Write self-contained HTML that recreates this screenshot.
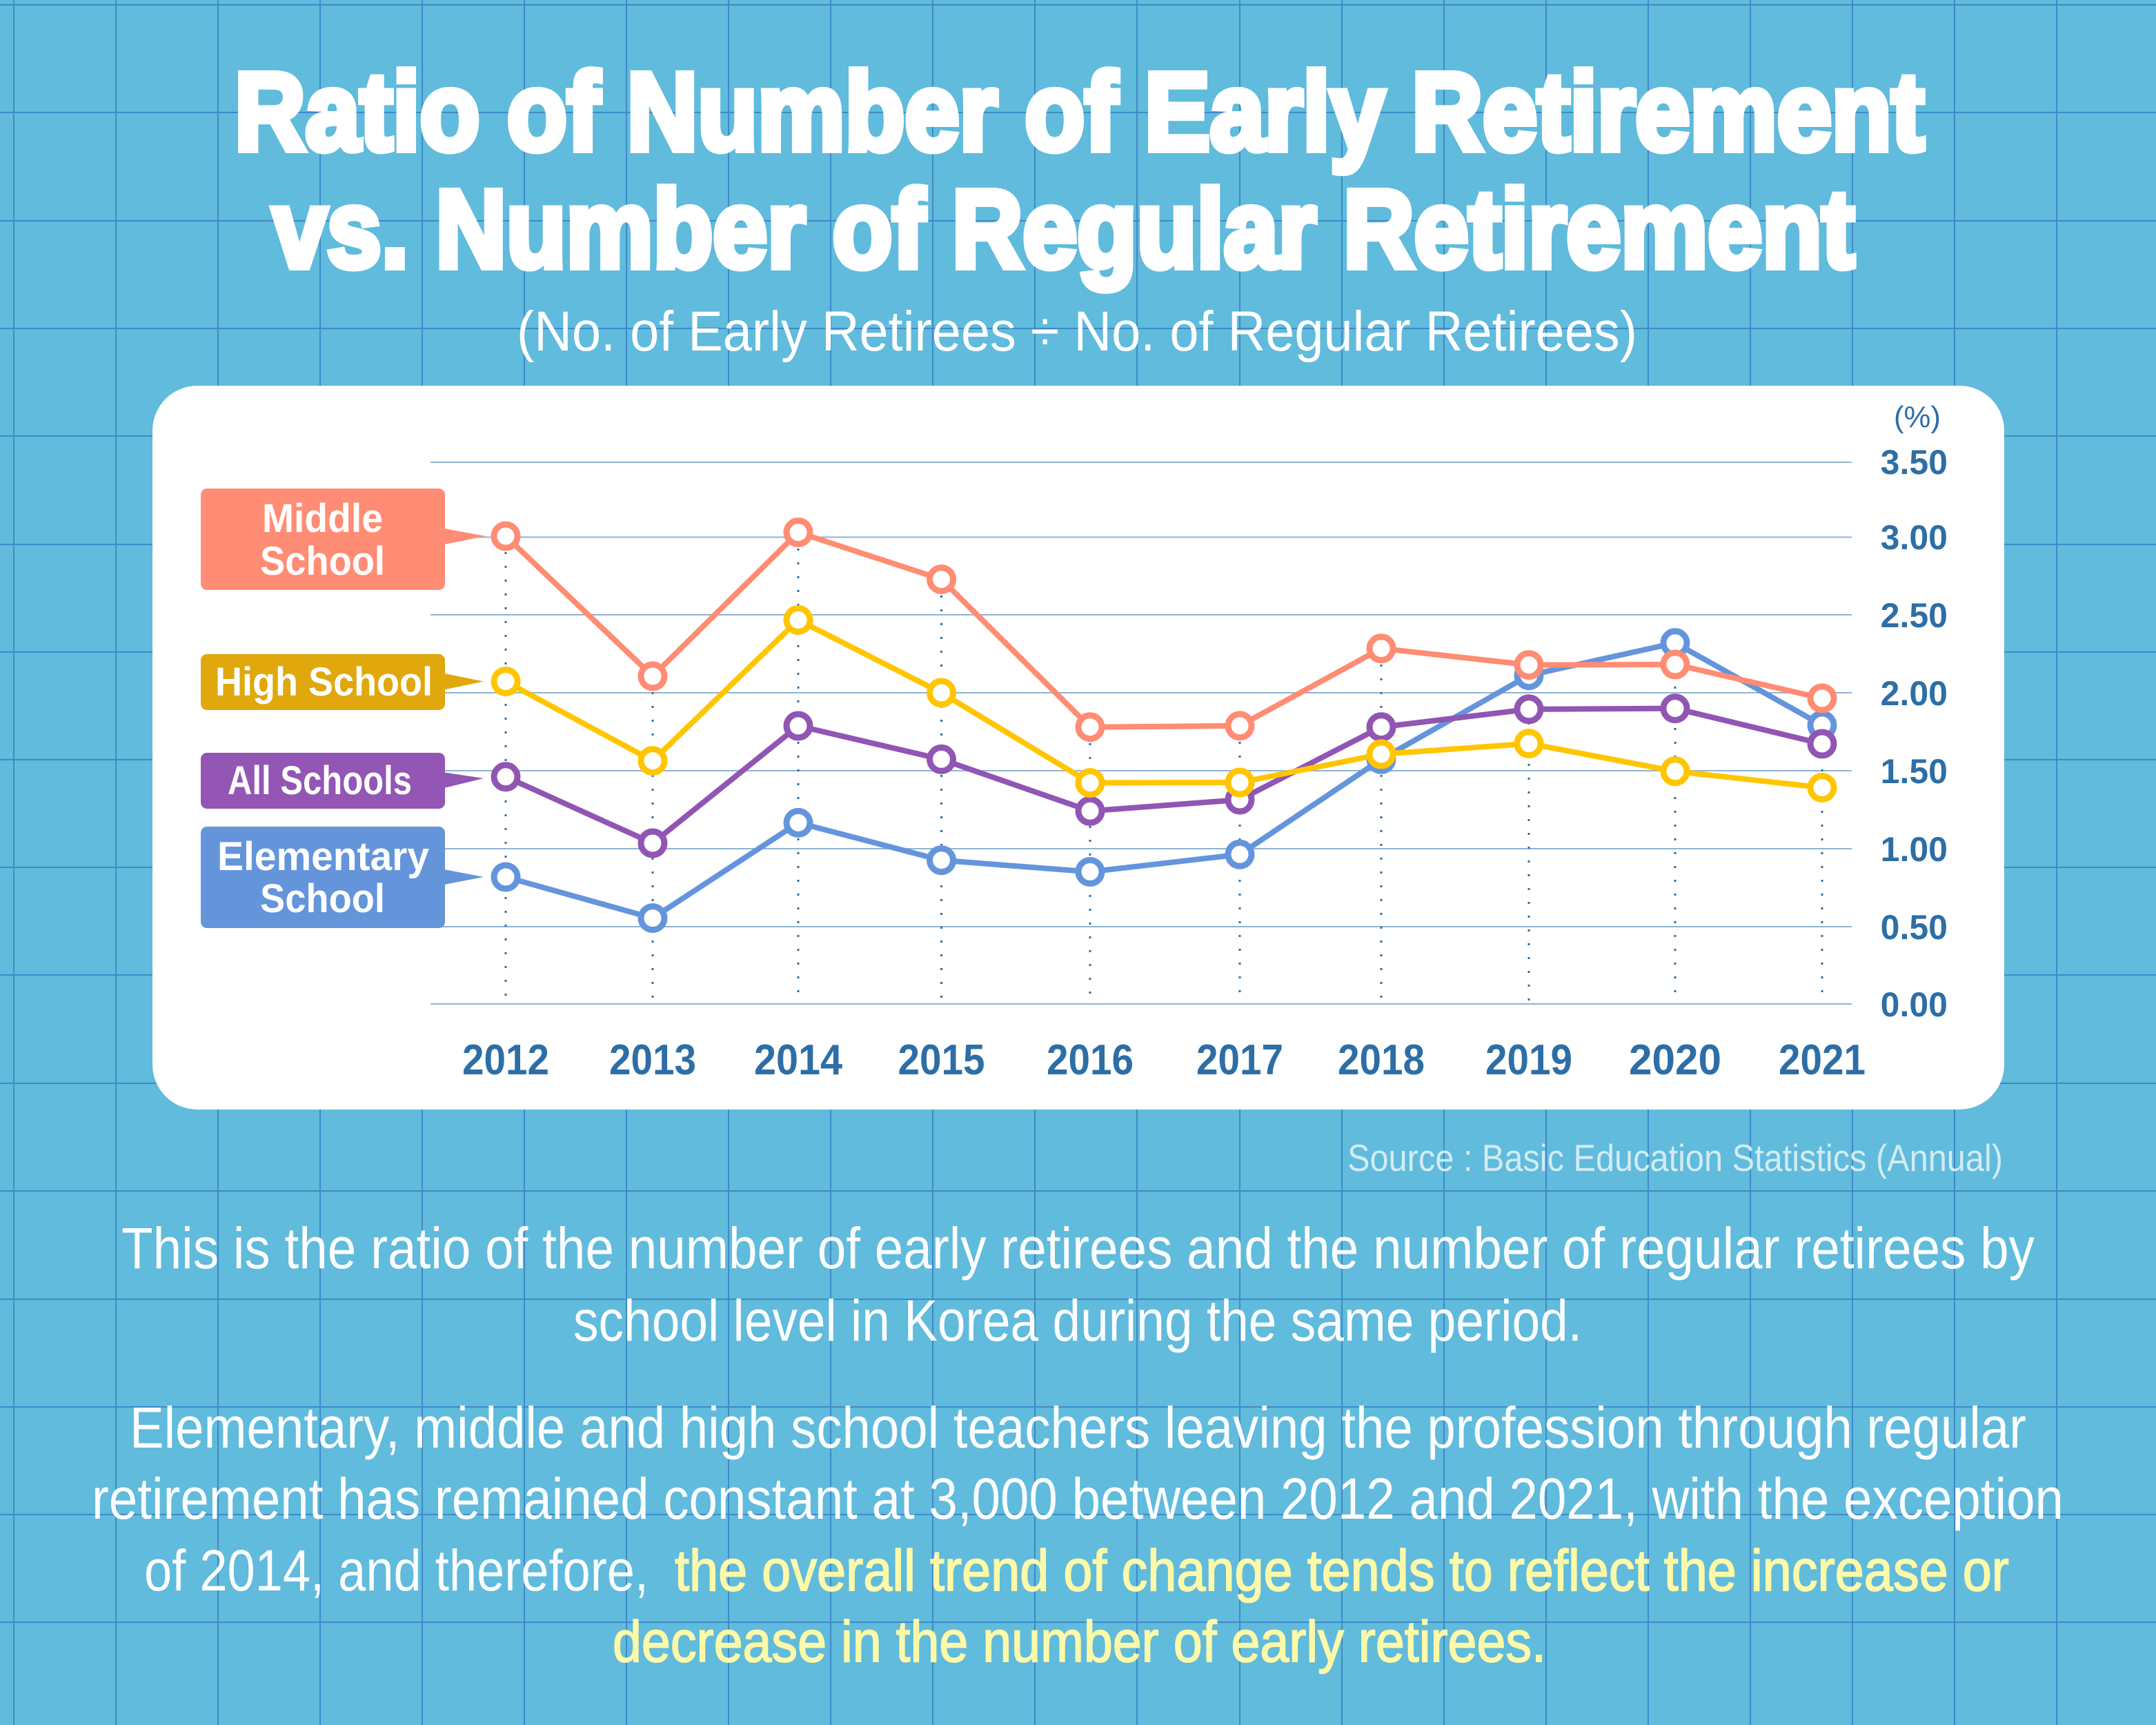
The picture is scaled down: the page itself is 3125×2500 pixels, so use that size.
<!DOCTYPE html>
<html><head><meta charset="utf-8"><style>
html,body{margin:0;padding:0;background:#60bbdc;}
svg{display:block;}
text{font-family:"Liberation Sans",sans-serif;}
</style></head><body>
<svg width="3125" height="2500" viewBox="0 0 3125 2500" xmlns="http://www.w3.org/2000/svg">
<rect x="0" y="0" width="3125" height="2500" fill="#60bbdc"/>
<g stroke="#3f89c8" stroke-width="2">
<line x1="20" y1="0" x2="20" y2="2500"/><line x1="168" y1="0" x2="168" y2="2500"/><line x1="316" y1="0" x2="316" y2="2500"/><line x1="464" y1="0" x2="464" y2="2500"/><line x1="612" y1="0" x2="612" y2="2500"/><line x1="760" y1="0" x2="760" y2="2500"/><line x1="908" y1="0" x2="908" y2="2500"/><line x1="1056" y1="0" x2="1056" y2="2500"/><line x1="1204" y1="0" x2="1204" y2="2500"/><line x1="1352" y1="0" x2="1352" y2="2500"/><line x1="1500" y1="0" x2="1500" y2="2500"/><line x1="1648" y1="0" x2="1648" y2="2500"/><line x1="1797" y1="0" x2="1797" y2="2500"/><line x1="1945" y1="0" x2="1945" y2="2500"/><line x1="2093" y1="0" x2="2093" y2="2500"/><line x1="2241" y1="0" x2="2241" y2="2500"/><line x1="2389" y1="0" x2="2389" y2="2500"/><line x1="2537" y1="0" x2="2537" y2="2500"/><line x1="2685" y1="0" x2="2685" y2="2500"/><line x1="2833" y1="0" x2="2833" y2="2500"/><line x1="2981" y1="0" x2="2981" y2="2500"/>
<line x1="0" y1="7" x2="3125" y2="7"/><line x1="0" y1="163" x2="3125" y2="163"/><line x1="0" y1="320" x2="3125" y2="320"/><line x1="0" y1="476" x2="3125" y2="476"/><line x1="0" y1="632" x2="3125" y2="632"/><line x1="0" y1="789" x2="3125" y2="789"/><line x1="0" y1="945" x2="3125" y2="945"/><line x1="0" y1="1101" x2="3125" y2="1101"/><line x1="0" y1="1257" x2="3125" y2="1257"/><line x1="0" y1="1413" x2="3125" y2="1413"/><line x1="0" y1="1570" x2="3125" y2="1570"/><line x1="0" y1="1726" x2="3125" y2="1726"/><line x1="0" y1="1883" x2="3125" y2="1883"/><line x1="0" y1="2039" x2="3125" y2="2039"/><line x1="0" y1="2195" x2="3125" y2="2195"/><line x1="0" y1="2351" x2="3125" y2="2351"/>
</g>

<!-- Title -->
<g fill="#ffffff" stroke="#ffffff" stroke-width="10" font-weight="bold" font-size="160">
<text x="340" y="217" textLength="2449" lengthAdjust="spacingAndGlyphs">Ratio of Number of Early Retirement</text>
<text x="395" y="387" textLength="2293" lengthAdjust="spacingAndGlyphs">vs. Number of Regular Retirement</text>
</g>
<text x="749" y="508" font-size="82" fill="#ffffff" textLength="1624" lengthAdjust="spacingAndGlyphs">(No. of Early Retirees ÷ No. of Regular Retirees)</text>

<!-- Card -->
<rect x="221" y="559" width="2684" height="1049" rx="65" ry="65" fill="#ffffff"/>

<!-- chart gridlines -->
<g stroke="#8fb3d3" stroke-width="2">
<line x1="624" y1="670" x2="2684" y2="670"/>
<line x1="624" y1="778.5" x2="2684" y2="778.5"/>
<line x1="624" y1="891" x2="2684" y2="891"/>
<line x1="624" y1="1004" x2="2684" y2="1004"/>
<line x1="624" y1="1117" x2="2684" y2="1117"/>
<line x1="624" y1="1230" x2="2684" y2="1230"/>
<line x1="624" y1="1343" x2="2684" y2="1343"/>
<line x1="624" y1="1455" x2="2684" y2="1455"/>
</g>

<!-- dotted verticals -->
<g stroke="#2d6ea6" stroke-width="3" stroke-dasharray="3 17">
<line x1="733" y1="800" x2="733" y2="1455"/>
<line x1="946" y1="1003" x2="946" y2="1455"/>
<line x1="1157" y1="795" x2="1157" y2="1455"/>
<line x1="1364.5" y1="863" x2="1364.5" y2="1455"/>
<line x1="1580" y1="1077" x2="1580" y2="1455"/>
<line x1="1797" y1="1075" x2="1797" y2="1455"/>
<line x1="2002" y1="963" x2="2002" y2="1455"/>
<line x1="2216" y1="987" x2="2216" y2="1455"/>
<line x1="2428" y1="955" x2="2428" y2="1455"/>
<line x1="2641" y1="1035" x2="2641" y2="1455"/>
</g>

<!-- series -->
<g fill="none" stroke-width="8" stroke-linejoin="round">
<polyline stroke="#6495dc" points="733,1271 946,1330.6 1157,1192.4 1364.5,1246.7 1580,1263.5 1797,1238.3 2002,1100.4 2216,978.7 2428,931.8 2641,1051"/>
</g>
<g fill="#ffffff" stroke="#6495dc" stroke-width="9">
<circle cx="733" cy="1271" r="17"/><circle cx="946" cy="1330.6" r="17"/><circle cx="1157" cy="1192.4" r="17"/><circle cx="1364.5" cy="1246.7" r="17"/><circle cx="1580" cy="1263.5" r="17"/><circle cx="1797" cy="1238.3" r="17"/><circle cx="2002" cy="1100.4" r="17"/><circle cx="2216" cy="978.7" r="17"/><circle cx="2428" cy="931.8" r="17"/><circle cx="2641" cy="1051" r="17"/>
</g>

<g fill="none" stroke-width="8" stroke-linejoin="round">
<polyline stroke="#9155b3" points="733,1125.8 946,1222 1157,1052 1364.5,1100.4 1580,1175.4 1797,1159 2002,1053.7 2216,1027.9 2428,1026.7 2641,1078"/>
</g>
<g fill="#ffffff" stroke="#9155b3" stroke-width="9">
<circle cx="733" cy="1125.8" r="17"/><circle cx="946" cy="1222" r="17"/><circle cx="1157" cy="1052" r="17"/><circle cx="1364.5" cy="1100.4" r="17"/><circle cx="1580" cy="1175.4" r="17"/><circle cx="1797" cy="1159" r="17"/><circle cx="2002" cy="1053.7" r="17"/><circle cx="2216" cy="1027.9" r="17"/><circle cx="2428" cy="1026.7" r="17"/><circle cx="2641" cy="1078" r="17"/>
</g>

<g fill="none" stroke-width="8" stroke-linejoin="round">
<polyline stroke="#ffc600" points="733,987.6 946,1102.6 1157,898.5 1364.5,1004 1580,1134.6 1797,1134 2002,1093 2216,1077.6 2428,1117.8 2641,1141.5"/>
</g>
<g fill="#ffffff" stroke="#ffc600" stroke-width="9">
<circle cx="733" cy="987.6" r="17"/><circle cx="946" cy="1102.6" r="17"/><circle cx="1157" cy="898.5" r="17"/><circle cx="1364.5" cy="1004" r="17"/><circle cx="1580" cy="1134.6" r="17"/><circle cx="1797" cy="1134" r="17"/><circle cx="2002" cy="1093" r="17"/><circle cx="2216" cy="1077.6" r="17"/><circle cx="2428" cy="1117.8" r="17"/><circle cx="2641" cy="1141.5" r="17"/>
</g>

<g fill="none" stroke-width="8" stroke-linejoin="round">
<polyline stroke="#ff8c73" points="733,777 946,980 1157,771.5 1364.5,839.6 1580,1053.7 1797,1051.9 2002,939.8 2216,963.7 2428,963 2641,1012"/>
</g>
<g fill="#ffffff" stroke="#ff8c73" stroke-width="9">
<circle cx="733" cy="777" r="17"/><circle cx="946" cy="980" r="17"/><circle cx="1157" cy="771.5" r="17"/><circle cx="1364.5" cy="839.6" r="17"/><circle cx="1580" cy="1053.7" r="17"/><circle cx="1797" cy="1051.9" r="17"/><circle cx="2002" cy="939.8" r="17"/><circle cx="2216" cy="963.7" r="17"/><circle cx="2428" cy="963" r="17"/><circle cx="2641" cy="1012" r="17"/>
</g>

<!-- legend boxes -->
<rect x="291" y="708" width="354" height="147" rx="9" fill="#ff8c75"/>
<polygon points="644,766 704,777 644,789" fill="#ff8c75"/>
<rect x="291" y="948" width="354" height="81" rx="9" fill="#e0a80c"/>
<polygon points="644,976 701,987.6 644,999.5" fill="#e0a80c"/>
<rect x="291" y="1091" width="354" height="81" rx="9" fill="#9356b4"/>
<polygon points="644,1119.5 701,1128 644,1142" fill="#9356b4"/>
<rect x="291" y="1198" width="354" height="147" rx="9" fill="#6495db"/>
<polygon points="644,1260 701,1271 644,1282" fill="#6495db"/>

<g fill="#ffffff" font-weight="bold" font-size="58">
<text x="380" y="771" textLength="175" lengthAdjust="spacingAndGlyphs">Middle</text>
<text x="377" y="833" textLength="181" lengthAdjust="spacingAndGlyphs">School</text>
<text x="312" y="1008" textLength="315" lengthAdjust="spacingAndGlyphs">High School</text>
<text x="330" y="1151" textLength="267" lengthAdjust="spacingAndGlyphs">All Schools</text>
<text x="315" y="1261" textLength="307" lengthAdjust="spacingAndGlyphs">Elementary</text>
<text x="377" y="1322" textLength="181" lengthAdjust="spacingAndGlyphs">School</text>
</g>

<!-- y axis labels -->
<g fill="#2d6ea6" font-weight="bold" font-size="50" text-anchor="end">
<text x="2823" y="687">3.50</text>
<text x="2823" y="796">3.00</text>
<text x="2823" y="909">2.50</text>
<text x="2823" y="1022">2.00</text>
<text x="2823" y="1135">1.50</text>
<text x="2823" y="1248">1.00</text>
<text x="2823" y="1361">0.50</text>
<text x="2823" y="1473">0.00</text>
</g>
<text x="2745" y="619" font-size="44" fill="#2d6ea6" textLength="68" lengthAdjust="spacingAndGlyphs">(%)</text>

<!-- x axis labels -->
<g fill="#2d6ea6" font-weight="bold" font-size="62" text-anchor="middle">
<text x="733" y="1557" textLength="126" lengthAdjust="spacingAndGlyphs">2012</text>
<text x="946" y="1557" textLength="126" lengthAdjust="spacingAndGlyphs">2013</text>
<text x="1157" y="1557" textLength="128" lengthAdjust="spacingAndGlyphs">2014</text>
<text x="1364.5" y="1557" textLength="126" lengthAdjust="spacingAndGlyphs">2015</text>
<text x="1580" y="1557" textLength="126" lengthAdjust="spacingAndGlyphs">2016</text>
<text x="1797" y="1557" textLength="126" lengthAdjust="spacingAndGlyphs">2017</text>
<text x="2002" y="1557" textLength="126" lengthAdjust="spacingAndGlyphs">2018</text>
<text x="2216" y="1557" textLength="126" lengthAdjust="spacingAndGlyphs">2019</text>
<text x="2428" y="1557" textLength="134" lengthAdjust="spacingAndGlyphs">2020</text>
<text x="2641" y="1557" textLength="126" lengthAdjust="spacingAndGlyphs">2021</text>
</g>

<!-- source -->
<text x="1953" y="1697" font-size="55" fill="#d3ebf3" textLength="950" lengthAdjust="spacingAndGlyphs">Source : Basic Education Statistics (Annual)</text>

<!-- body -->
<g font-size="84" fill="#fbfdfe">
<text x="176" y="1838" textLength="2773" lengthAdjust="spacingAndGlyphs">This is the ratio of the number of early retirees and the number of regular retirees by</text>
<text x="831" y="1943" textLength="1462" lengthAdjust="spacingAndGlyphs">school level in Korea during the same period.</text>
<text x="188" y="2098" textLength="2749" lengthAdjust="spacingAndGlyphs">Elementary, middle and high school teachers leaving the profession through regular</text>
<text x="133" y="2201" textLength="2858" lengthAdjust="spacingAndGlyphs">retirement has remained constant at 3,000 between 2012 and 2021, with the exception</text>
<text x="209" y="2305" textLength="731" lengthAdjust="spacingAndGlyphs">of 2014, and therefore,</text>
</g>
<g font-size="84" fill="#fdf9a8" stroke="#fdf9a8" stroke-width="1.8">
<text x="978" y="2305" textLength="1934" lengthAdjust="spacingAndGlyphs">the overall trend of change tends to reflect the increase or</text>
<text x="888" y="2408" textLength="1353" lengthAdjust="spacingAndGlyphs">decrease in the number of early retirees.</text>
</g>
</svg>
</body></html>
